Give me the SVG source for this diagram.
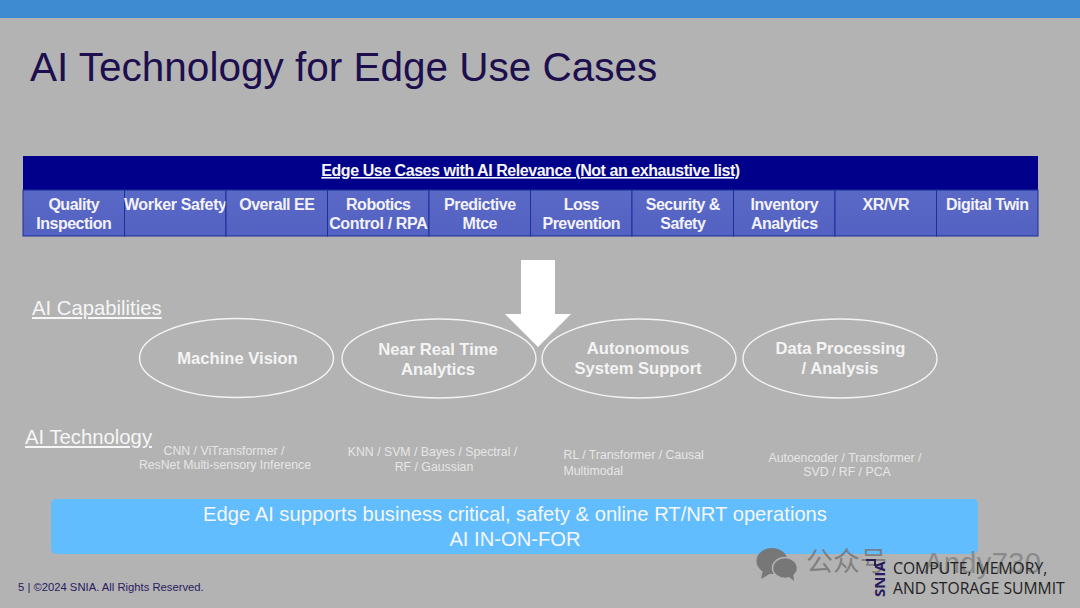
<svg xmlns="http://www.w3.org/2000/svg" width="1080" height="608" viewBox="0 0 1080 608">
<defs>
<linearGradient id="cellGrad" x1="0" y1="0" x2="0" y2="1"><stop offset="0" stop-color="#5a69c6"/><stop offset="1" stop-color="#5361c2"/></linearGradient>
</defs>
<style>
text{font-family:"Liberation Sans",Arial,sans-serif}
.cell{fill:url(#cellGrad);stroke:#1f2f9a;stroke-width:1}
.ct{fill:#f2f2f8;font-size:16px;font-weight:700;text-anchor:middle;letter-spacing:-.5px}
.cap{fill:none;stroke:#f4f4f4;stroke-width:1.4}
.capt{fill:#f4f4f4;font-size:16.6px;font-weight:700;text-anchor:middle}
.sec{fill:#f6f6f6;font-size:20.3px;text-decoration:underline}
.tech{fill:#e6e6e6;font-size:12.3px;text-anchor:middle}
.wm{fill:#777;font-size:27px}
</style>
<rect width="1080" height="608" fill="#b3b3b3"/>
<rect width="1080" height="18" fill="#3f8bd2"/>
<text x="30" y="81" font-size="40.5" fill="#1d0f4e">AI Technology for Edge Use Cases</text>

<g id="use-cases">
<rect x="23" y="156" width="1015" height="34" fill="#00008b"/>
<text x="530.5" y="176" fill="#f6f6f6" font-size="16" font-weight="700" text-anchor="middle" text-decoration="underline" letter-spacing="-.45">Edge Use Cases with AI Relevance (Not an exhaustive list)</text>
<g id="uc-quality"><rect class="cell" x="23" y="190" width="101.5" height="46"/><text class="ct" x="73.8" y="210">Quality</text><text class="ct" x="73.8" y="229">Inspection</text></g>
<g id="uc-worker"><rect class="cell" x="124.5" y="190" width="101.5" height="46"/><text class="ct" x="175.3" y="210" style="letter-spacing:-.35px">Worker Safety</text></g>
<g id="uc-ee"><rect class="cell" x="226" y="190" width="101.5" height="46"/><text class="ct" x="276.8" y="210">Overall EE</text></g>
<g id="uc-robotics"><rect class="cell" x="327.5" y="190" width="101.5" height="46"/><text class="ct" x="378.3" y="210">Robotics</text><text class="ct" x="378.3" y="229" style="letter-spacing:-.35px">Control / RPA</text></g>
<g id="uc-predictive"><rect class="cell" x="429" y="190" width="101.5" height="46"/><text class="ct" x="479.8" y="210">Predictive</text><text class="ct" x="479.8" y="229">Mtce</text></g>
<g id="uc-loss"><rect class="cell" x="530.5" y="190" width="101.5" height="46"/><text class="ct" x="581.3" y="210">Loss</text><text class="ct" x="581.3" y="229">Prevention</text></g>
<g id="uc-security"><rect class="cell" x="632" y="190" width="101.5" height="46"/><text class="ct" x="682.8" y="210">Security &amp;</text><text class="ct" x="682.8" y="229">Safety</text></g>
<g id="uc-inventory"><rect class="cell" x="733.5" y="190" width="101.5" height="46"/><text class="ct" x="784.3" y="210">Inventory</text><text class="ct" x="784.3" y="229">Analytics</text></g>
<g id="uc-xr"><rect class="cell" x="835" y="190" width="101.5" height="46"/><text class="ct" x="885.8" y="210">XR/VR</text></g>
<g id="uc-twin"><rect class="cell" x="936.5" y="190" width="101.5" height="46"/><text class="ct" x="987.3" y="210">Digital Twin</text></g>
</g>

<text id="label-capabilities" class="sec" x="32" y="315">AI Capabilities</text>
<g id="cap-vision"><ellipse class="cap" cx="236.5" cy="358" rx="97" ry="39.5"/><text class="capt" x="237.5" y="364">Machine Vision</text></g>
<g id="cap-nrt"><ellipse class="cap" cx="439" cy="358.5" rx="97" ry="39.5"/><text class="capt" x="438" y="355">Near Real Time</text><text class="capt" x="438" y="375">Analytics</text></g>
<g id="cap-auto"><ellipse class="cap" cx="639" cy="358.5" rx="97" ry="39.5"/><text class="capt" x="638" y="354">Autonomous</text><text class="capt" x="638" y="374">System Support</text></g>
<g id="cap-data"><ellipse class="cap" cx="840" cy="358.5" rx="97" ry="39.5"/><text class="capt" x="840.5" y="354">Data Processing</text><text class="capt" x="840" y="374">/ Analysis</text></g>

<g id="connectors">
<polygon points="521,260 555,260 555,314 571,314 538,347 505,314 521,314" fill="#ffffff"/>
</g>

<text id="label-technology" class="sec" x="25" y="444">AI Technology</text>
<g id="tech-1"><text class="tech" x="224" y="455">CNN / ViTransformer /</text><text class="tech" x="225" y="469">ResNet Multi-sensory Inference</text></g>
<g id="tech-2"><text class="tech" x="432.5" y="456">KNN / SVM / Bayes / Spectral /</text><text class="tech" x="434" y="471">RF / Gaussian</text></g>
<g id="tech-3"><text class="tech" x="563.5" y="459" style="text-anchor:start">RL / Transformer / Causal</text><text class="tech" x="563.5" y="475" style="text-anchor:start">Multimodal</text></g>
<g id="tech-4"><text class="tech" x="845" y="462">Autoencoder / Transformer /</text><text class="tech" x="847" y="476">SVD / RF / PCA</text></g>

<g id="banner">
<rect x="51" y="499" width="927" height="55" rx="5" fill="#62bdfe"/>
<text x="515" y="520.5" fill="#f4f6fa" font-size="20.2" text-anchor="middle">Edge AI supports business critical, safety &amp; online RT/NRT operations</text>
<text x="515" y="546" fill="#f4f6fa" font-size="20.2" text-anchor="middle">AI IN-ON-FOR</text>
</g>

<text x="18" y="591" fill="#2a1a5e" font-size="11.25">5 | ©2024 SNIA. All Rights Reserved.</text>

<g id="watermark">
<ellipse cx="772" cy="561" rx="15.5" ry="13" fill="#777"/>
<polygon points="763,570 761,579 771,573" fill="#777"/>
<ellipse cx="785" cy="568" rx="12.5" ry="10.5" fill="#777" stroke="#b3b3b3" stroke-width="1.5"/>
<polygon points="788,576 794,581 793,573" fill="#777"/>
<text class="wm" x="806" y="571" style="font-family:'Noto Sans CJK SC','Liberation Sans',sans-serif" fill-opacity=".85">公众号</text>
<text x="897" y="571" fill="#888" font-size="25">·</text>
<text x="924" y="573" fill="#8a8a8a" font-size="29" letter-spacing=".4">Andy730</text>
</g>

<g id="logo">
<polyline points="866,560 875,560 875,566" fill="none" stroke="#2a1f55" stroke-width="2"/>
<text transform="translate(885,597) rotate(-90)" fill="#2a1a5e" font-size="15" font-weight="700" style="font-family:'Open Sans','Liberation Sans',sans-serif">SNIA</text>
<text x="893" y="574" fill="#222" font-size="15.7" style="font-family:'Open Sans','Liberation Sans',sans-serif">COMPUTE, MEMORY,</text>
<text x="893" y="594" fill="#222" font-size="15.7" style="font-family:'Open Sans','Liberation Sans',sans-serif">AND STORAGE SUMMIT</text>
</g>
</svg>
